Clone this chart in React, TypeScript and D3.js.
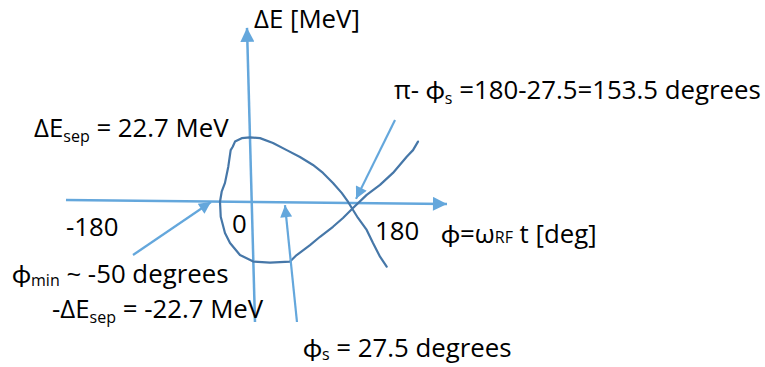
import React from "react";
import * as d3 from "d3";

const W = 765;
const H = 367;

// Hand-traced separatrix: phase (deg) and energy offset (MeV), one continuous stroke
const sepPhi = [
  227.8, 216.7, 205, 194.5, 180, 171.7, 163.3, 152.8, 138.3, 121.7, 105, 83.3, 61.2, 38.3,
  16.7, 0, -13.8, -25, -28.8, -32.2, -36.2, -41.7, -47.2, -50, -48.8, -41.7, -33.3, -16.7,
  5.5, 33.3, 66.7, 77.8, 100, 116.7, 138.3, 155, 171.7, 194.5, 216.7, 238.3, 261.2, 271.7, 280,
];
const sepDE = [
  -22.7, -19.2, -14.4, -9.8, -5.6, -2.8, 0.1, 3.2, 6.7, 10.2, 13.0, 15.8, 18.2, 20.7,
  22.4, 22.7, 22.4, 21.2, 19.4, 18.2, 12.4, 6.7, 3.6, 0.1, -5.2, -10.9, -14.4, -18.6,
  -20.9, -21.3, -20.9, -18.6, -15.1, -12.2, -8.7, -5.6, -2.1, 2.5, 6.0, 10.2, 15.9, 18.2, 21.2,
];

// Axis strokes (start -> arrow tip), drawn freehand so slightly tilted
const phiAxisPhi = [-306.7, 328.3];
const phiAxisDE = [0.7, -0.7];
const deAxisPhi = [8.3, -5];
const deAxisDE = [-42.1, 61.1];

// Pointer arrows for the annotations: start and tip in (phi, dE)
const pointerNames = ["phiMin", "phiS", "piMinusPhiS"];
const pointerFromPhi = [-195, 78.3, 241.7];
const pointerFromDE = [-18.6, -42.1, 28.8];
const pointerToPhi = [-65, 58.3, 176.7];
const pointerToDE = [0, -1.1, 1.1];

const AXIS_COLOR = "#64a7dc";
const CURVE_COLOR = "#4677a8";
const FONT = "'Open Sans', Lato, sans-serif";

export default function App() {
  const x = d3.scaleLinear().domain([0, 100]).range([250, 310]);
  const y = d3.scaleLinear().domain([0, 22.7]).range([202, 137.3]);

  const line = d3
    .line<number>()
    .x((_, i) => x(sepPhi[i]))
    .y((_, i) => y(sepDE[i]))
    .curve(d3.curveLinear);

  const fs = 25.8;
  const sub = 16;

  return (
    <svg
      width={W}
      height={H}
      style={{ position: "absolute", left: 0, top: 0, background: "#fff" }}
      fontFamily={FONT}
    >
      <defs>
        <marker
          id="axisHead"
          viewBox="0 0 10 10"
          refX={10}
          refY={5}
          markerWidth={17}
          markerHeight={14}
          markerUnits="userSpaceOnUse"
          orient="auto"
        >
          <path d="M0,0 L10,5 L0,10 z" fill={AXIS_COLOR} />
        </marker>
        <marker
          id="ptrHead"
          viewBox="0 0 10 10"
          refX={10}
          refY={5}
          markerWidth={14}
          markerHeight={12}
          markerUnits="userSpaceOnUse"
          orient="auto"
        >
          <path d="M0,0 L10,5 L0,10 z" fill={AXIS_COLOR} />
        </marker>
      </defs>

      {/* phase axis */}
      <line
        x1={x(phiAxisPhi[0])}
        y1={y(phiAxisDE[0])}
        x2={x(phiAxisPhi[1])}
        y2={y(phiAxisDE[1])}
        stroke={AXIS_COLOR}
        strokeWidth={2.5}
        markerEnd="url(#axisHead)"
      />
      {/* energy axis */}
      <line
        x1={x(deAxisPhi[0])}
        y1={y(deAxisDE[0])}
        x2={x(deAxisPhi[1])}
        y2={y(deAxisDE[1])}
        stroke={AXIS_COLOR}
        strokeWidth={2.5}
        markerEnd="url(#axisHead)"
      />

      {/* separatrix */}
      <path
        d={line(sepPhi) || ""}
        fill="none"
        stroke={CURVE_COLOR}
        strokeWidth={2.2}
        strokeLinejoin="round"
        strokeLinecap="round"
      />

      {/* annotation pointers */}
      {pointerNames.map((n, i) => (
        <line
          key={n}
          x1={x(pointerFromPhi[i])}
          y1={y(pointerFromDE[i])}
          x2={x(pointerToPhi[i])}
          y2={y(pointerToDE[i])}
          stroke={AXIS_COLOR}
          strokeWidth={2.2}
          markerEnd="url(#ptrHead)"
        />
      ))}

      <g fill="#000" fontSize={fs}>
        <text x={254} y={27.5}>ΔE [MeV]</text>
        <text x={394} y={99}>
          π- ϕ
          <tspan fontSize={sub} dy={5}>s</tspan>
          <tspan dy={-5}> =180-27.5=153.5 degrees</tspan>
        </text>
        <text x={34} y={137}>
          ΔE
          <tspan fontSize={sub} dy={5}>sep</tspan>
          <tspan dy={-5}> = 22.7 MeV</tspan>
        </text>
        <text x={66} y={236}>-180</text>
        <text x={232} y={233}>0</text>
        <text x={375} y={240}>180</text>
        <text x={441} y={243}>
          ϕ=ω
          <tspan fontSize={sub} dy={0}>RF</tspan>
          <tspan> t [deg]</tspan>
        </text>
        <text x={12} y={283}>
          ϕ
          <tspan fontSize={sub} dy={3}>min</tspan>
          <tspan dy={-3}> ~ -50 degrees</tspan>
        </text>
        <text x={52} y={318}>
          -ΔE
          <tspan fontSize={sub} dy={5}>sep</tspan>
          <tspan dy={-5}> = -22.7 MeV</tspan>
        </text>
        <text x={303} y={357}>
          ϕ
          <tspan fontSize={sub} dy={3}>s</tspan>
          <tspan dy={-3}> = 27.5 degrees</tspan>
        </text>
      </g>
    </svg>
  );
}
